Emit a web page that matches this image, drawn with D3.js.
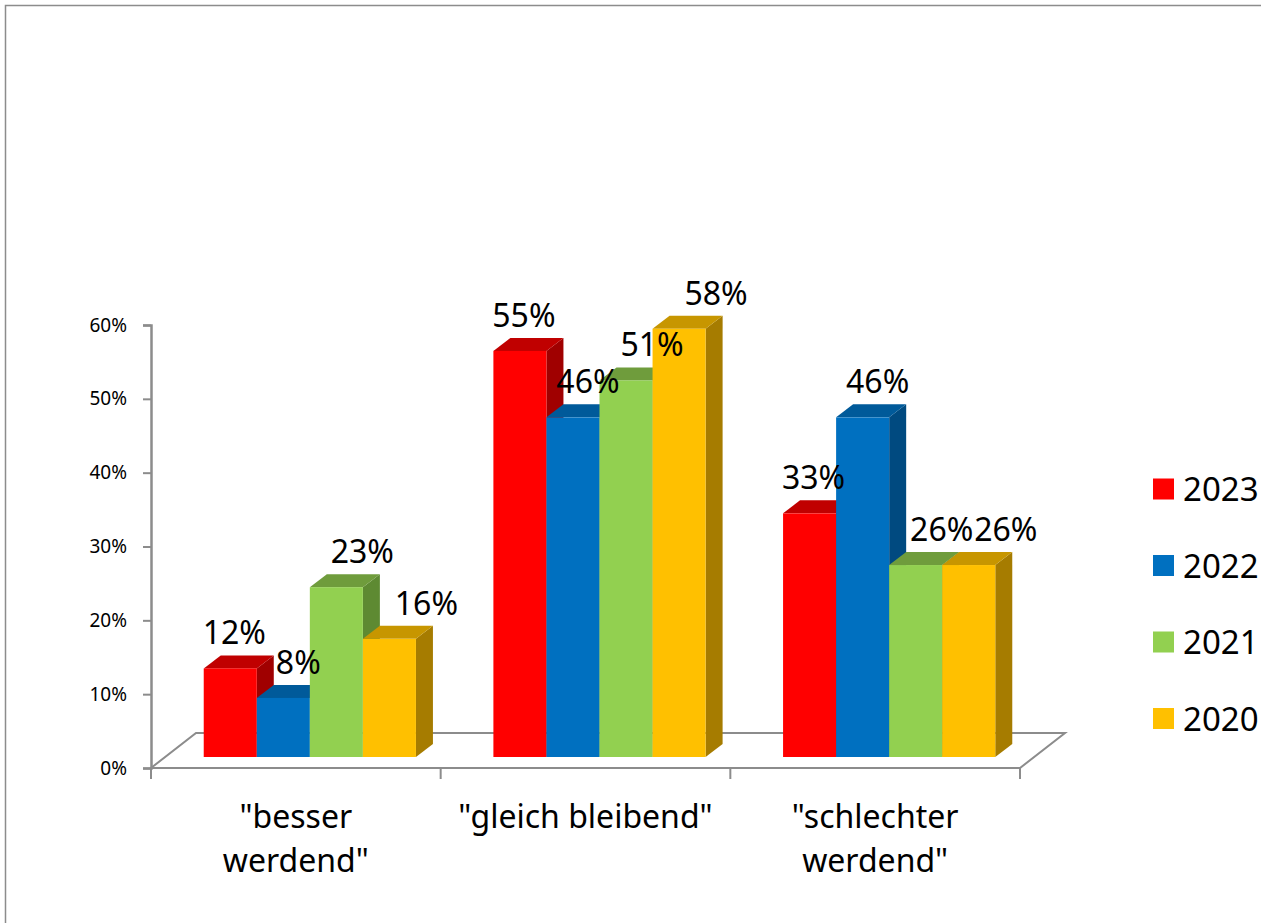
<!DOCTYPE html>
<html>
<head>
<meta charset="utf-8">
<script src="https://cdn.jsdelivr.net/npm/d3@7"></script>
<style>
  html, body { margin: 0; padding: 0; background: #fff; }
  svg { display: block; font-family: "Noto Sans", sans-serif; }
</style>
</head>
<body>
<div id="chart"></div>
<script>
// data
const categories = [["\"besser", "werdend\""], ["\"gleich bleibend\""], ["\"schlechter", "werdend\""]];
const categoryKeys = ["besser", "gleich", "schlechter"];
const series = ["2023", "2022", "2021", "2020"];
const values = [
    [0.12, 0.08, 0.23, 0.16],   // besser werdend
    [0.55, 0.46, 0.51, 0.58],   // gleich bleibend
    [0.33, 0.46, 0.26, 0.26]    // schlechter werdend
];
const yTicks = [0, 0.1, 0.2, 0.3, 0.4, 0.5, 0.6];

const frontColors = ["#ff0000", "#0070c0", "#92d050", "#ffc000"];
const topColors   = ["#c00000", "#005a9a", "#6f9c3c", "#c79600"];
const sideColors  = ["#a00000", "#004a80", "#5e8a32", "#a67c00"];

const W = 1261, H = 923;
const svg = d3.select("#chart").append("svg")
    .attr("width", W).attr("height", H);

// outer frame (only top and left edges visible)
svg.append("path")
    .attr("d", "M5.5," + H + "V5.5H" + W)
    .attr("fill", "none").attr("stroke", "#8c8c8c").attr("stroke-width", 1.5);

// front plane scales
const x = d3.scaleBand().domain(categoryKeys).range([151, 1020]).padding(0);
const xs = d3.scaleBand().domain(series).range([0, x.bandwidth()]).paddingInner(0).paddingOuter(0.73);
const y = d3.scaleLinear().domain([0, 0.6]).range([768, 325]);

// depth offsets
const floorDx = 45, floorDy = -35;
const frontDx = 14, frontDy = -11;   // bar front face
const barDx = 17, barDy = -13;       // bar depth

const axisColor = "#8c8c8c";

// floor
svg.append("path")
    .attr("d", `M${x.range()[0]},${y(0)}L${x.range()[1]},${y(0)}L${x.range()[1] + floorDx},${y(0) + floorDy}L${x.range()[0] + floorDx},${y(0) + floorDy}Z`)
    .attr("fill", "none").attr("stroke", axisColor).attr("stroke-width", 2);

// y axis
const yAxis = svg.append("g")
    .attr("transform", "translate(151,0)")
    .call(d3.axisLeft(y).tickValues(yTicks).tickFormat(d3.format(".0%")).tickSize(8).tickPadding(16));
yAxis.select(".domain").attr("stroke", axisColor).attr("stroke-width", 2.5);
yAxis.selectAll(".tick line").attr("stroke", axisColor).attr("stroke-width", 2);
yAxis.selectAll(".tick text")
    .attr("font-family", "Noto Sans").attr("font-size", "19px").attr("fill", "#000");

// category ticks
svg.append("g").selectAll("line")
    .data(categoryKeys.map(c => x(c)).concat([x.range()[1]]))
    .join("line")
    .attr("x1", d => d).attr("x2", d => d)
    .attr("y1", y(0)).attr("y2", y(0) + 11)
    .attr("stroke", axisColor).attr("stroke-width", 2);

// category labels
categories.forEach((lines, i) => {
    const cx = x(categoryKeys[i]) + x.bandwidth() / 2;
    svg.append("text")
        .attr("x", cx).attr("y", 828)
        .attr("text-anchor", "middle")
        .attr("font-size", "32px").attr("fill", "#000")
        .selectAll("tspan").data(lines).join("tspan")
        .attr("x", cx).attr("dy", (d, j) => j === 0 ? 0 : 44)
        .text(d => d);
});

// bars
const bars = [];
values.forEach((row, ci) => {
    row.forEach((v, si) => {
        bars.push({cat: categoryKeys[ci], s: series[si], si: si, v: v});
    });
});

const barG = svg.append("g");
bars.forEach(b => {
    const x0 = x(b.cat) + xs(b.s) + frontDx;
    const x1 = x0 + xs.bandwidth();
    const yb = y(0) + frontDy;
    const yt = y(b.v) + frontDy;
    const g = barG.append("g");
    // side
    g.append("path")
        .attr("d", `M${x1},${yt}L${x1 + barDx},${yt + barDy}L${x1 + barDx},${yb + barDy}L${x1},${yb}Z`)
        .attr("fill", sideColors[b.si]);
    // top
    g.append("path")
        .attr("d", `M${x0},${yt}L${x0 + barDx},${yt + barDy}L${x1 + barDx},${yt + barDy}L${x1},${yt}Z`)
        .attr("fill", topColors[b.si]);
    // front
    g.append("rect")
        .attr("x", x0).attr("y", yt)
        .attr("width", xs.bandwidth()).attr("height", yb - yt)
        .attr("fill", frontColors[b.si]);
});

// value labels
svg.append("g").selectAll("text")
    .data(bars)
    .join("text")
    .attr("x", d => x(d.cat) + xs(d.s) + frontDx + xs.bandwidth() / 2 + 4 + 11 * d.si)
    .attr("y", d => y(d.v) + frontDy - 24)
    .attr("text-anchor", "middle")
    .attr("font-size", "32px").attr("fill", "#000")
    .text(d => Math.round(d.v * 100) + "%");

// legend
const legend = svg.append("g").selectAll("g")
    .data(series)
    .join("g")
    .attr("transform", (d, i) => `translate(1153,${489 + i * 76.5})`);
legend.append("rect")
    .attr("x", 0).attr("y", -10.5).attr("width", 21).attr("height", 21)
    .attr("fill", (d, i) => frontColors[i]);
legend.append("text")
    .attr("x", 30).attr("y", 12)
    .attr("font-size", "33px").attr("fill", "#000")
    .text(d => d);
</script>
</body>
</html>
